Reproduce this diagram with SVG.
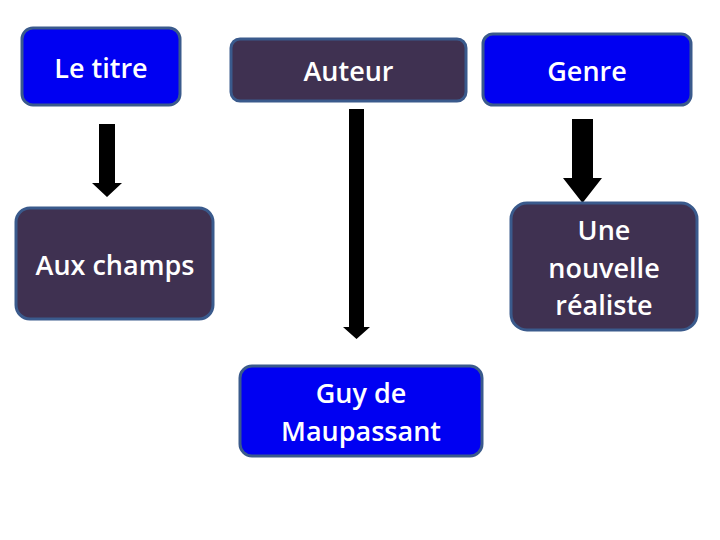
<svg xmlns="http://www.w3.org/2000/svg" width="720" height="540" viewBox="0 0 720 540">
<style>
.blue{fill:#0000F2;stroke:#3A5A8C;stroke-width:3}
.dark{fill:#3F3151;stroke:#3A5A8C;stroke-width:3}
text{font-family:"Open Sans","Liberation Sans",sans-serif;font-size:27px;font-weight:600;fill:#FFFFFF;text-anchor:middle}
.arr{fill:#000000}
</style>
<rect width="720" height="540" fill="#FFFFFF"/>
<g id="connectors">
<polygon class="arr" points="99,124 115,124 115,183 122,183 107,197 92,183 99,183"/>
<polygon class="arr" points="349,109 364,109 364,327 370,327 356.5,339 343,327 349,327"/>
<polygon class="arr" points="572,119 593,119 593,178 602,178 582.5,203 563,178 572,178"/>
</g>
<g id="n-titre"><rect class="blue" x="22" y="28" width="158" height="77" rx="11"/><text x="101" y="78">Le titre</text></g>
<g id="n-auteur"><rect class="dark" x="231" y="39" width="235" height="62" rx="9"/><text x="348.5" y="81">Auteur</text></g>
<g id="n-genre"><rect class="blue" x="483" y="34" width="208" height="71" rx="10"/><text x="587" y="81">Genre</text></g>
<g id="n-aux"><rect class="dark" x="16" y="208" width="197" height="111" rx="14"/><text x="115" y="275">Aux champs</text></g>
<g id="n-nouvelle"><rect class="dark" x="511" y="203" width="186" height="127" rx="16"/><text x="604" y="240">Une</text><text x="604" y="278">nouvelle</text><text x="604" y="315">réaliste</text></g>
<g id="n-guy"><rect class="blue" x="240" y="366" width="242" height="90" rx="12"/><text x="361" y="403">Guy de</text><text x="361" y="441">Maupassant</text></g>
</svg>
